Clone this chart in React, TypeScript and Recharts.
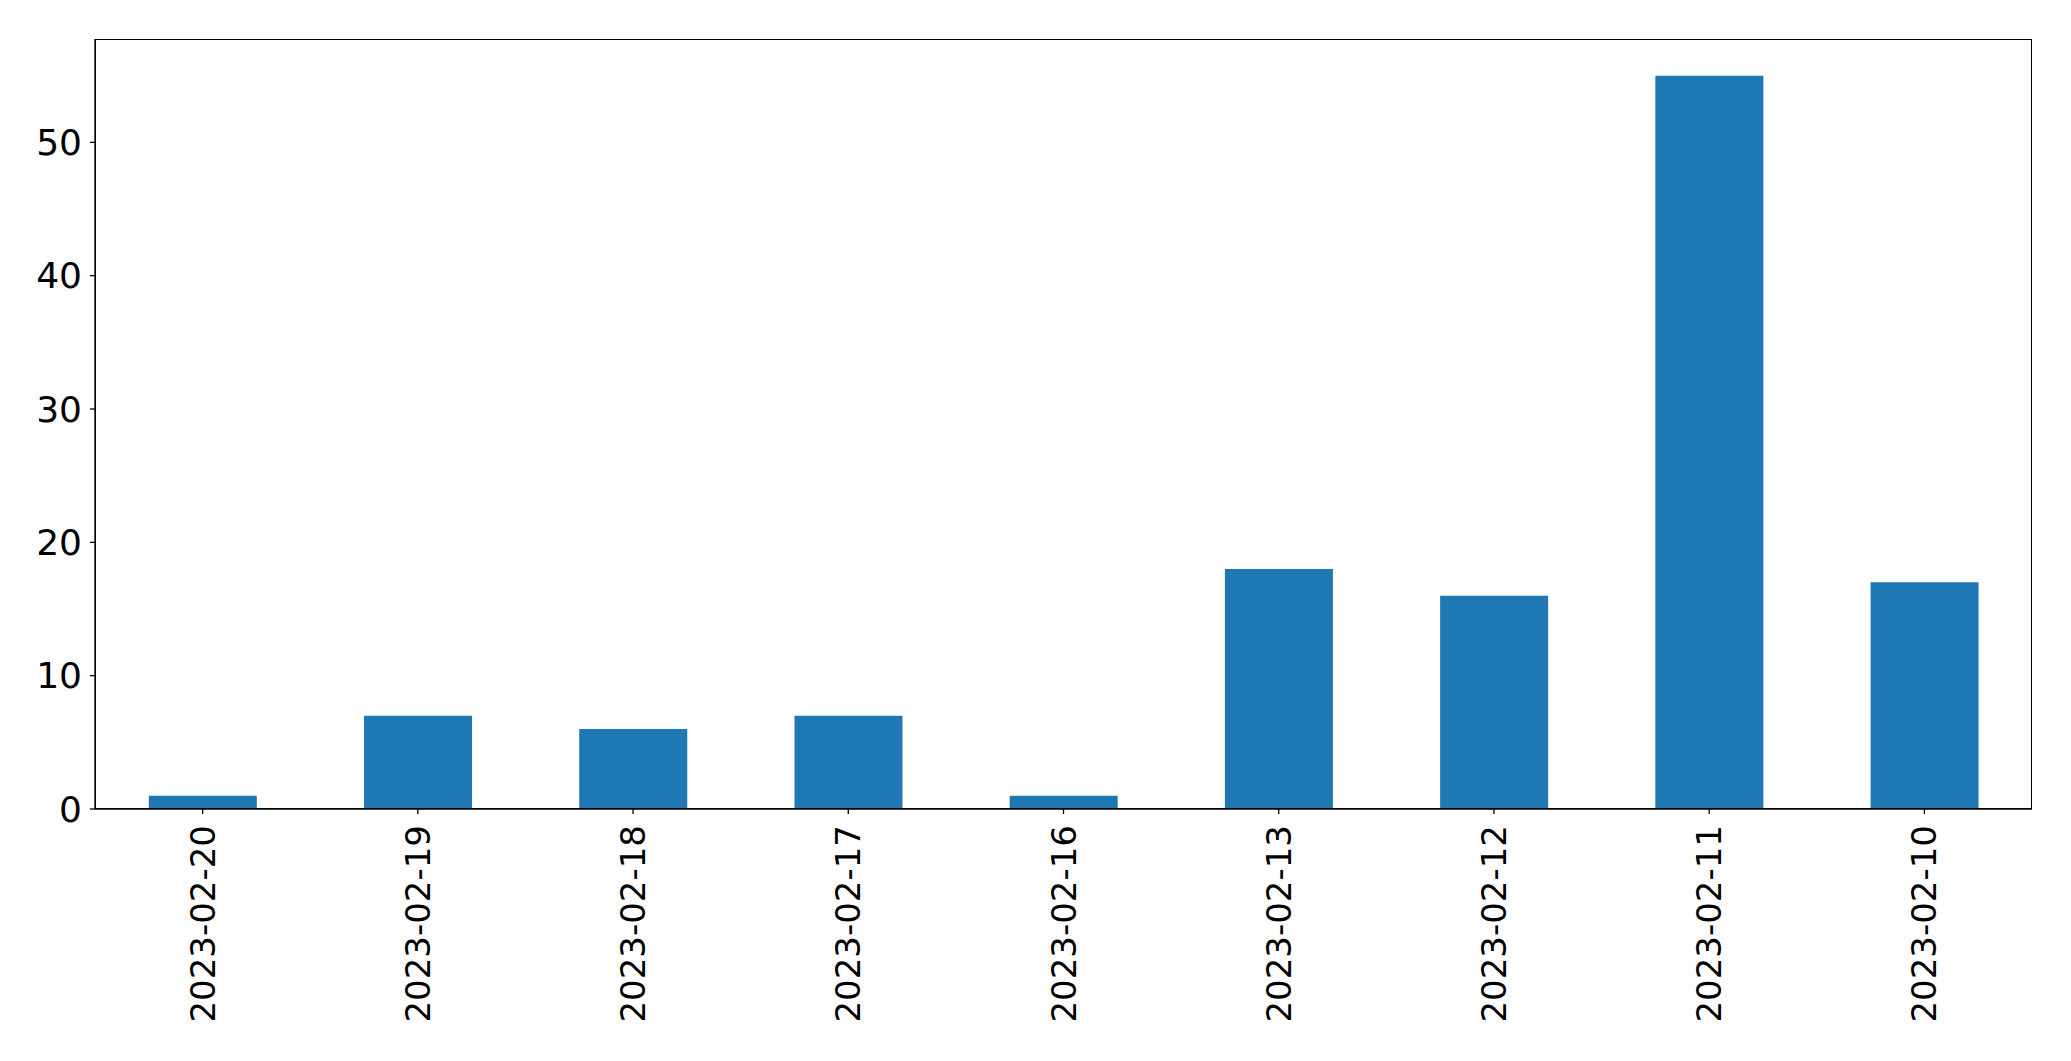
import { BarChart, Bar, XAxis, YAxis } from "recharts";

const dates = [
  "2023-02-20",
  "2023-02-19",
  "2023-02-18",
  "2023-02-17",
  "2023-02-16",
  "2023-02-13",
  "2023-02-12",
  "2023-02-11",
  "2023-02-10",
];

const counts = [1, 7, 6, 7, 1, 18, 16, 55, 17];

const yTicks = [0, 10, 20, 30, 40, 50];

const data = dates.map((date, i) => ({ date, count: counts[i] }));

const FONT = "DejaVu Sans, sans-serif";

function DateTick({ x, y, payload }: any) {
  return (
    <text
      transform={`translate(${x},${y}) rotate(-90)`}
      textAnchor="end"
      dominantBaseline="central"
      fontFamily={FONT}
      fontSize={34}
      fill="#000"
    >
      {payload.value}
    </text>
  );
}

export default function App() {
  return (
    <div style={{ position: "absolute", left: 0, top: 0, background: "#fff" }}>
      <BarChart
        width={2071}
        height={1061}
        data={data}
        margin={{ top: 39, right: 39, left: 0, bottom: 0 }}
        barCategoryGap="25%"
      >
        <XAxis
          dataKey="date"
          height={252}
          interval={0}
          tick={<DateTick />}
          tickSize={5}
          tickMargin={11}
          axisLine={{ stroke: "#000", strokeWidth: 1.3 }}
          tickLine={{ stroke: "#000", strokeWidth: 1.3 }}
        />
        <YAxis
          width={95}
          domain={[0, 57.75]}
          ticks={yTicks}
          allowDataOverflow
          tickSize={5}
          tickMargin={8}
          tick={{ fontFamily: FONT, fontSize: 36, fill: "#000" }}
          axisLine={{ stroke: "#000", strokeWidth: 1.3 }}
          tickLine={{ stroke: "#000", strokeWidth: 1.3 }}
        />
        <Bar dataKey="count" fill="#1f77b4" isAnimationActive={false} />
      </BarChart>
      {/* frame around the plot area, like matplotlib's spines */}
      <div
        style={{
          position: "absolute",
          left: 95,
          top: 39,
          width: 1937,
          height: 770,
          boxSizing: "border-box",
          border: "1.3px solid #000",
          pointerEvents: "none",
        }}
      />
    </div>
  );
}
